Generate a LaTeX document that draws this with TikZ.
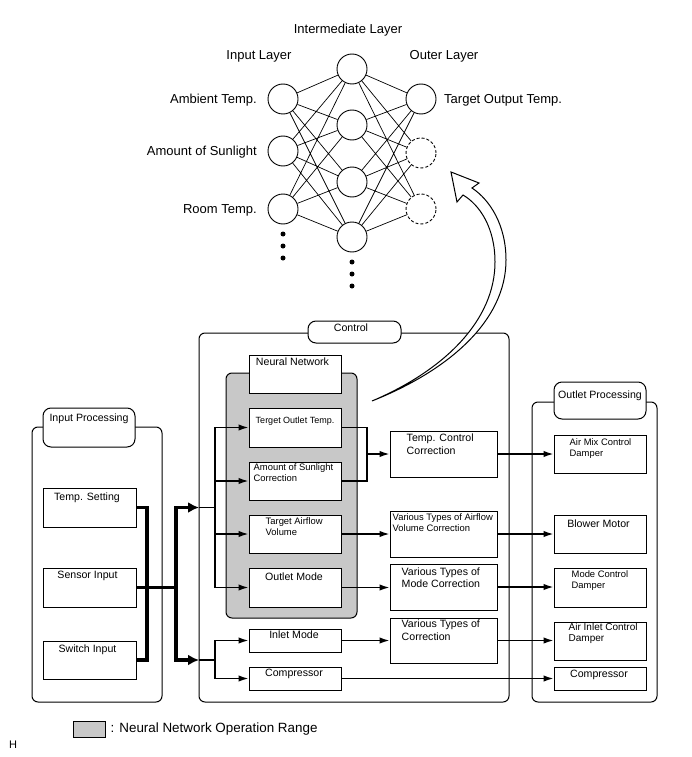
\documentclass[tikz,border=0pt]{standalone}
\usepackage{fontspec}
\setmainfont{Liberation Sans}
\usepackage{tikz}
\usetikzlibrary{positioning, arrows.meta}

\definecolor{nngray}{RGB}{200,200,200}
\newcommand{\fsA}{\fontsize{10.6}{13}\selectfont}
\newcommand{\fsB}{\fontsize{9.4}{11}\selectfont}
\newcommand{\fsC}{\fontsize{9}{10.5}\selectfont}

\begin{document}
\begin{tikzpicture}[
						x=1pt, y=-1pt,
						every node/.style={font=\fsA},
						neuron/.style={draw, circle, minimum size=30pt, inner sep=0pt, line width=0.9pt},
						outdash/.style={neuron, dashed, dash pattern=on 3pt off 2pt},
						lay/.style={font=\fontsize{13}{15}\selectfont, inner sep=0pt},
						lbl/.style={inner sep=0pt, align=left},
						plainbox/.style={draw, line width=1pt, inner sep=0pt, fill=white},
						groupbox/.style={draw, line width=1pt, rounded corners=6pt, inner sep=0pt},
						tabbox/.style={draw, line width=1pt, rounded corners=8pt, fill=white, inner sep=0pt},
						conn/.style={line width=1.5pt},
						arr/.style={conn, -{Latex[length=10pt, width=6.5pt]}},
						boldline/.style={line width=3.5pt},
						boldarrow/.style={boldline, -{Latex[length=11pt, width=11pt]}}
				]
    \useasboundingbox (0,0) rectangle (691,757);

    % Network
    \node[lay, anchor=base] (IntermediateTitle) at (348,33.5) {Intermediate Layer};
    \node[lay, anchor=base] (InputTitle) at (259,59.5) {Input Layer};
    \node[lay, anchor=base] (OuterTitle) at (444,59.5) {Outer Layer};
    \node[lay, anchor=base east] (AmbientLabel) at (257,103.5) {Ambient Temp.};
    \node[lay, anchor=base east] (SunlightLabel) at (257,155) {Amount of Sunlight};
    \node[lay, anchor=base east] (RoomLabel) at (257,213.5) {Room Temp.};
    \node[lay, anchor=base west] (TargetLabel) at (444,103.5) {Target Output Temp.};

    \node[neuron] (In1) at (283,99) {};
    \node[neuron] (In2) at (283,151) {};
    \node[neuron] (In3) at (283,209) {};
    \node[neuron] (Mid1) at (352,69) {};
    \node[neuron] (Mid2) at (352,125) {};
    \node[neuron] (Mid3) at (352,182) {};
    \node[neuron] (Mid4) at (352,237) {};
    \node[neuron] (Out1) at (421,99) {};
    \node[outdash] (Out2) at (421,153) {};
    \node[outdash] (Out3) at (421,209) {};

    \draw[line width=0.7pt] (In1) -- (Mid1) (In1) -- (Mid2) (In1) -- (Mid3) (In1) -- (Mid4)
        (In2) -- (Mid1) (In2) -- (Mid2) (In2) -- (Mid3) (In2) -- (Mid4)
        (In3) -- (Mid1) (In3) -- (Mid2) (In3) -- (Mid3) (In3) -- (Mid4);
    \draw[line width=0.7pt] (Mid1) -- (Out1) (Mid1) -- (Out2) (Mid1) -- (Out3)
        (Mid2) -- (Out1) (Mid2) -- (Out2) (Mid2) -- (Out3)
        (Mid3) -- (Out1) (Mid3) -- (Out2) (Mid3) -- (Out3)
        (Mid4) -- (Out1) (Mid4) -- (Out2) (Mid4) -- (Out3);

    \fill (283,234) circle[radius=2.5pt] (283,246) circle[radius=2.5pt] (283,258) circle[radius=2.5pt];
    \fill (352,262) circle[radius=2.5pt] (352,274) circle[radius=2.5pt] (352,286) circle[radius=2.5pt];

    % Input Processing
    \node[groupbox, minimum width=130pt, minimum height=275pt] (InputProc) at (97,564.5) {};
    \node[tabbox, minimum width=92pt, minimum height=39pt,
        label={[lbl, anchor=north, yshift=-6pt]north:Input Processing}] (InputTab) at (89,427.5) {};
    \node[plainbox, minimum width=93pt, minimum height=39pt,
        label={[lbl, anchor=north, xshift=-2.5pt, yshift=-5pt]north:Temp. Setting}] (TempSetting) at (89.5,507.5) {};
    \node[plainbox, minimum width=93pt, minimum height=39pt,
        label={[lbl, anchor=north, xshift=-2pt, yshift=-3pt]north:Sensor Input}] (SensorInput) at (89.5,587.5) {};
    \node[plainbox, minimum width=93pt, minimum height=38pt,
        label={[lbl, anchor=north, xshift=-2pt, yshift=-4pt]north:Switch Input}] (SwitchInput) at (89.5,660) {};

    % Control
    \node[groupbox, minimum width=310pt, minimum height=369pt] (Control) at (354,517.5) {};
    \node[tabbox, minimum width=93pt, minimum height=22pt,
        label={[lbl, anchor=north, xshift=-3.5pt, yshift=-3pt]north:Control}] (ControlTab) at (354.5,332) {};
    \node[groupbox, fill=nngray, minimum width=131pt, minimum height=245pt] (NNRange) at (291.5,495.5) {};
    \node[plainbox, minimum width=92pt, minimum height=38pt,
        label={[lbl, anchor=north, xshift=-2.5pt, yshift=-3pt]north:Neural Network}] (NeuralNet) at (295,374) {};
    \node[plainbox, minimum width=92pt, minimum height=39pt,
        label={[lbl, font=\fsC, anchor=north, yshift=-9.4pt]north:Terget Outlet Temp.}] (TargetOutlet) at (295,427.5) {};
    \node[plainbox, minimum width=92pt, minimum height=38pt,
        label={[lbl, font=\fsB, anchor=north west, xshift=5pt, yshift=-1.6pt]north west:Amount of Sunlight\\Correction}] (Sunlight) at (295,481) {};
    \node[plainbox, minimum width=92pt, minimum height=38pt,
        label={[lbl, font=\fsB, anchor=north west, xshift=17pt, yshift=-2.7pt]north west:Target Airflow\\Volume}] (Airflow) at (295,534) {};
    \node[plainbox, minimum width=92pt, minimum height=39pt,
        label={[lbl, anchor=north, xshift=-1pt, yshift=-5pt]north:Outlet Mode}] (OutletMode) at (295,587.5) {};
    \node[plainbox, minimum width=92pt, minimum height=23pt,
        label={[lbl, anchor=north, xshift=-1pt, yshift=-2.2pt]north:Inlet Mode}] (InletMode) at (295,640.5) {};
    \node[plainbox, minimum width=92pt, minimum height=23pt,
        label={[lbl, anchor=north, xshift=-1pt, yshift=-2.2pt]north:Compressor}] (CompressorC) at (295,678.5) {};

    \node[plainbox, minimum width=107pt, minimum height=46pt,
        label={[lbl, anchor=north west, xshift=17pt, yshift=-3.3pt]north west:Temp. Control\\Correction}] (TempCorr) at (443.5,454) {};
    \node[plainbox, minimum width=107pt, minimum height=46pt,
        label={[lbl, font=\fsB, anchor=north west, xshift=3pt, yshift=-3pt]north west:Various Types of Airflow\\Volume Correction}] (AirflowCorr) at (443.5,534) {};
    \node[plainbox, minimum width=107pt, minimum height=46pt,
        label={[lbl, font=\fontsize{10.6}{12.3}\selectfont, anchor=north west, xshift=12pt, yshift=-4.2pt]north west:Various Types of\\Mode Correction}] (ModeCorr) at (443.5,587) {};
    \node[plainbox, minimum width=107pt, minimum height=45pt,
        label={[lbl, anchor=north west, xshift=12pt, yshift=-2.2pt]north west:Various Types of\\Correction}] (VariousCorr) at (443.5,640.5) {};

    % Outlet Processing
    \node[groupbox, minimum width=125pt, minimum height=300pt] (OutletProc) at (594.5,552) {};
    \node[tabbox, minimum width=92pt, minimum height=37pt,
        label={[lbl, anchor=north, yshift=-9pt]north:Outlet Processing}] (OutletTab) at (600,400.5) {};
    \node[plainbox, minimum width=92pt, minimum height=38pt,
        label={[lbl, font=\fsB, anchor=north west, xshift=16pt, yshift=-3.6pt]north west:Air Mix Control\\Damper}] (AirMix) at (600,454) {};
    \node[plainbox, minimum width=92pt, minimum height=38pt,
        label={[lbl, anchor=north, xshift=-1.5pt, yshift=-5pt]north:Blower Motor}] (Blower) at (600,534) {};
    \node[plainbox, minimum width=92pt, minimum height=39pt,
        label={[lbl, font=\fsB, anchor=north west, xshift=18pt, yshift=-2.6pt]north west:Mode Control\\Damper}] (ModeDamper) at (600,587.5) {};
    \node[plainbox, minimum width=92pt, minimum height=38pt,
        label={[lbl, font=\fontsize{10}{11}\selectfont, anchor=north west, xshift=15pt, yshift=-1.5pt]north west:Air Inlet Control\\Damper}] (InletDamper) at (600,641) {};
    \node[plainbox, minimum width=92pt, minimum height=23pt,
        label={[lbl, anchor=north, xshift=-1pt, yshift=-3pt]north:Compressor}] (CompressorO) at (600,678.5) {};

    % Wiring
    \coordinate (JoinA) at (147,587.5);
    \coordinate (Split) at (176,587.5);
    \coordinate (InA) at (199,507.5);
    \coordinate (InB) at (199,660);
    \coordinate (DistA) at (215,507.5);
    \coordinate (DistB) at (215,660);
    \coordinate (Merge) at (367,454);

    \draw[boldline] (TempSetting.east) -| (JoinA) |- (SwitchInput.east);
    \draw[boldline] (SensorInput.east) -- (Split);
    \draw[boldarrow] (Split) |- (InA);
    \draw[boldarrow] (Split) |- (InB);

    \draw[conn] (InA) -- (DistA);
    \draw[conn] (InB) -- (DistB);
    \draw[arr] (DistA) |- (TargetOutlet.west);
    \draw[arr] (DistA |- Sunlight.west) -- (Sunlight.west);
    \draw[arr] (DistA |- Airflow.west) -- (Airflow.west);
    \draw[arr] (DistA) |- (OutletMode.west);
    \draw[arr] (DistB) |- (InletMode.west);
    \draw[arr] (DistB) |- (CompressorC.west);

    \draw[conn] (TargetOutlet.east) -| (Merge) |- (Sunlight.east);
    \draw[arr] (Merge) -- (TempCorr.west);
    \draw[arr] (Airflow.east) -- (AirflowCorr.west);
    \draw[arr] (OutletMode.east) -- (ModeCorr.west |- OutletMode.east);
    \draw[arr] (InletMode.east) -- (VariousCorr.west);

    \draw[arr] (TempCorr.east) -- (AirMix.west);
    \draw[arr] (AirflowCorr.east) -- (Blower.west);
    \draw[arr] (ModeCorr.east) -- (ModeDamper.west |- ModeCorr.east);
    \draw[arr] (VariousCorr.east) -- (InletDamper.west |- VariousCorr.east);
    \draw[arr] (CompressorC.east) -- (CompressorO.west);

    % Hollow arrow up to the network
    \draw[line width=1pt, fill=white] (372,401) .. controls (450,370) and (506,320) .. (506,260)
        .. controls (506,225) and (490,200) .. (472,188)
        -- (479,183) -- (451,172) -- (457,202) -- (463,195)
        .. controls (480,205) and (495,228) .. (495,262)
        .. controls (495,320) and (445,370) .. (372,401) -- cycle;

    % Legend
    \node[plainbox, fill=nngray, minimum width=32pt, minimum height=16pt] (LegendBox) at (89,729) {};
    \node[lay, font=\fontsize{13.4}{15}\selectfont, right=5pt of LegendBox] (LegendText) {: Neural Network Operation Range};
    \node[font=\fontsize{11}{13}\selectfont, inner sep=0pt, anchor=base] (HMark) at (13,748) {H};

  \end{tikzpicture}
\end{document}
